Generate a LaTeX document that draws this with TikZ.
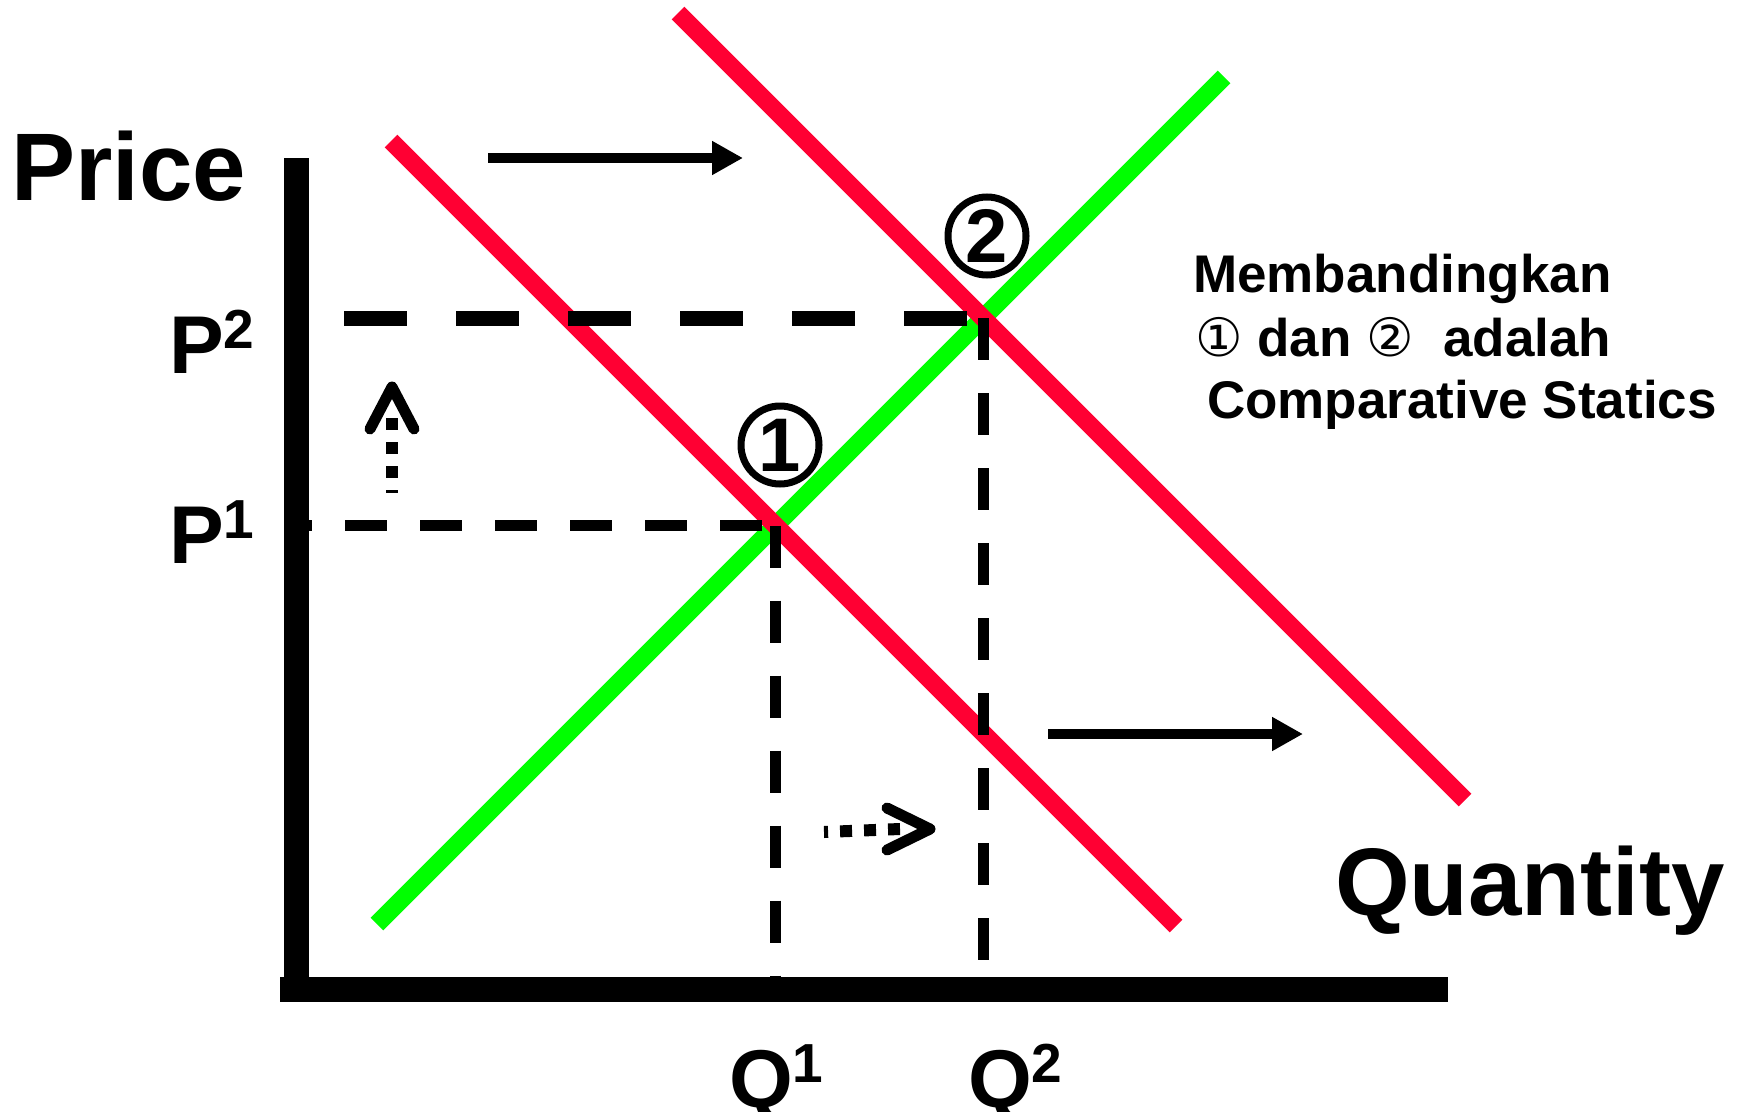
\documentclass[tikz,border=0pt]{standalone}
\usepackage{fontspec}
\setmainfont{Liberation Sans}
\newfontfamily\djv{DejaVu Sans}
\usetikzlibrary{arrows.meta}
\definecolor{dred}{RGB}{255,0,51}
\definecolor{dgreen}{RGB}{0,255,0}
\begin{document}
\begin{tikzpicture}[x=1pt,y=-1pt,
  axisline/.style={line width=25pt},
  curveline/.style={line width=18pt},
  thickdash/.style={line width=15pt, dash pattern=on 63pt off 49pt},
  thindash/.style={line width=11pt, dash pattern=on 42pt off 33pt},
  shiftarrow/.style={line width=10pt, -{Triangle[length=31pt,width=32pt]}},
  dotline/.style={line width=12pt, dash pattern=on 11.5pt off 12.5pt},
  chevron/.style={line width=11pt, line cap=round, line join=round},
  lbl/.style={inner sep=0pt, anchor=base west, font=\bfseries},
  eqpt/.style={circle, draw, line width=7pt, minimum size=78pt, inner sep=0pt,
    font=\bfseries\fontsize{76}{76}\selectfont}
]
\useasboundingbox (0,0) rectangle (1740,1111);
\fill[white] (0,0) rectangle (1740,1111);

% coordinates
\coordinate (ytop) at (296,158);
\coordinate (orig) at (296,989);
\coordinate (xstart) at (280,989);
\coordinate (xend) at (1448,989);
\coordinate (gA) at (377,924);
\coordinate (gB) at (1224,77);
\coordinate (rA) at (391,141);
\coordinate (rB) at (1176,926);
\coordinate (sA) at (678,13);
\coordinate (sB) at (1465,800);
\coordinate (E1) at (775.5,525.5);
\coordinate (E2) at (983,318);
\coordinate (p2s) at (344,318);
\coordinate (p1s) at (296,525.5);

% supply and demand lines
\draw[curveline, dgreen] (gA) -- (gB);
\draw[curveline, dred] (rA) -- (rB);
\draw[curveline, dred] (sA) -- (sB);

% dashed guides
\draw[thickdash] (p2s) -- (E2);
\draw[thindash] (E2) -- (E2 |- orig);
\draw[thindash, dash phase=26pt] (p1s) -- (E1);
\draw[thindash] (E1) -- (E1 |- orig);

% axes
\draw[axisline] (ytop) -- (orig);
\draw[axisline] (xstart) -- (xend);

% shift arrows
\coordinate (a1s) at (488,158);
\coordinate (a1e) at (743,158);
\coordinate (a2s) at (1048,734);
\coordinate (a2e) at (1303,734);
\draw[shiftarrow] (a1s) -- (a1e);
\draw[shiftarrow] (a2s) -- (a2e);

% dotted up arrow
\coordinate (u1) at (392,418);
\coordinate (u0) at (392,493);
\coordinate (uL) at (370,429);
\coordinate (uT) at (392,387);
\coordinate (uR) at (414,429);
\draw[dotline] (u1) -- (u0);
\draw[chevron] (uL) -- (uT) -- (uR);

% dotted right arrow
\coordinate (r1) at (900,829);
\coordinate (r0) at (824,832);
\coordinate (rU) at (887,808);
\coordinate (rT) at (930,829);
\coordinate (rD) at (887,850);
\draw[dotline, dash pattern=on 12pt off 12pt] (r1) -- (r0);
\draw[chevron] (rU) -- (rT) -- (rD);

% equilibrium markers
\node[eqpt] (m1) at (780,445) {1};
\node[eqpt] (m2) at (987,236) {2};

% axis labels
\node[lbl, font=\bfseries\fontsize{96}{96}\selectfont] (price) at (11,200) {Price};
\node[lbl, font=\bfseries\fontsize{96}{96}\selectfont] (qty) at (1335,915) {Quantity};
\node[lbl, font=\bfseries\fontsize{82}{82}\selectfont] (P2) at (169,373) {P\raisebox{25pt}{\fontsize{55}{55}\selectfont 2}};
\node[lbl, font=\bfseries\fontsize{82}{82}\selectfont] (P1) at (169,563) {P\raisebox{25pt}{\fontsize{55}{55}\selectfont 1}};
\node[lbl, font=\bfseries\fontsize{82}{82}\selectfont] (Q1) at (729,1107) {Q\raisebox{25pt}{\fontsize{55}{55}\selectfont 1}};
\node[lbl, font=\bfseries\fontsize{82}{82}\selectfont] (Q2) at (968,1107) {Q\raisebox{25pt}{\fontsize{55}{55}\selectfont 2}};

% note
\node[lbl, font=\bfseries\fontsize{53}{53}\selectfont] (t1) at (1193,292) {Membandingkan};
\node[lbl, font=\bfseries\fontsize{53}{53}\selectfont] (t2) at (1195,356) {{\djv\mdseries ①} dan {\djv\mdseries ②}\ \ adalah};
\node[lbl, font=\bfseries\fontsize{53}{53}\selectfont] (t3) at (1207,418) {Comparative Statics};
\end{tikzpicture}
\end{document}
